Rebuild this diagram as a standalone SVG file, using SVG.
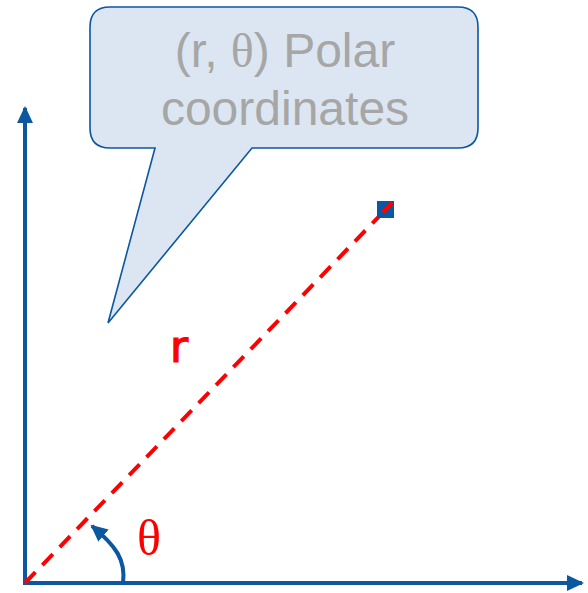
<svg xmlns="http://www.w3.org/2000/svg" width="588" height="593" viewBox="0 0 588 593">
<style>
.axis{stroke:#0b57a0;stroke-width:4;fill:none}
.radius{stroke:#ff0000;stroke-width:4;stroke-dasharray:15,10;fill:none}
.callout{fill:#dce6f2;stroke:#0b57a0;stroke-width:1.6}
.ctext{font-family:"Liberation Sans",Arial,sans-serif;font-size:48px;fill:#a6a6a6;text-anchor:middle}
.red{fill:#ff0000}
</style>
<defs>
<marker id="ah" markerWidth="18" markerHeight="16" refX="15" refY="8" orient="auto" markerUnits="userSpaceOnUse">
<path d="M0,0 L17,8 L0,16 Z" fill="#0b57a0"/>
</marker>
</defs>
<rect width="588" height="593" fill="#ffffff"/>
<g id="connectors">
<line class="axis" x1="25" y1="585" x2="25" y2="108" marker-end="url(#ah)"/>
<line class="axis" x1="23" y1="583" x2="582" y2="583" marker-end="url(#ah)"/>
<line class="radius" x1="25" y1="583" x2="390" y2="205"/>
<path class="axis" d="M123,583 C126,560 116,546 92,526" marker-end="url(#ah)"/>
</g>
<g id="point">
<rect x="377" y="201" width="17" height="17" fill="#0b57a0"/>
<line x1="383" y1="212" x2="392" y2="203" stroke="#ff0000" stroke-width="4"/>
</g>
<g id="callout">
<path class="callout" d="M110,7 H458 Q478,7 478,27 V128 Q478,148 458,148 H252 L108,323 L155,148 H110 Q90,148 90,128 V27 Q90,7 110,7 Z"/>
<text class="ctext" x="285" y="67">(r, <tspan font-family="'Liberation Serif','Times New Roman',serif">θ</tspan>) Polar</text>
<text class="ctext" x="285" y="125">coordinates</text>
</g>
<g id="labels">
<text class="red" x="170" y="362" font-family="'DejaVu Sans',sans-serif" font-size="44" stroke="#ff0000" stroke-width="1.2">r</text>
<text class="red" x="137" y="555" font-family="'Liberation Serif','Times New Roman',serif" font-size="50">θ</text>
</g>
</svg>
